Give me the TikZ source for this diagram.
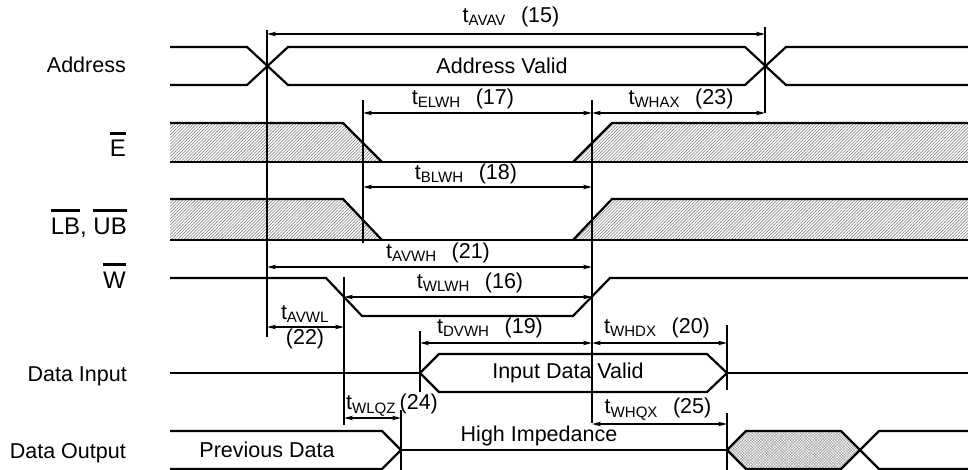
\documentclass[tikz,border=0pt]{standalone}
\usepackage{fontspec}
\setmainfont{Liberation Sans}
\usetikzlibrary{arrows.meta,patterns.meta}

\newcommand{\tlab}[2]{t\textsubscript{#1}\hspace{0.7em}(#2)}
\newcommand{\lowact}[1]{\leavevmode\setbox0\hbox{#1}\rlap{\raisebox{0.93em}{\rule{\wd0}{2.2pt}}}\box0}

\begin{document}
\begin{tikzpicture}[x=1pt,y=-1pt,>={Stealth[length=9pt,width=4.5pt]},
                    font=\fontsize{21.5}{26}\selectfont]
       \tikzstyle{sig}=[line width=2.2pt]
       \tikzstyle{vline}=[line width=2.2pt]
       \tikzstyle{dim}=[line width=1.8pt,<->]
       \tikzstyle{hatch}=[pattern={Lines[angle=45,distance=2.2pt,line width=0.6pt]},pattern color=black!50]
       \tikzstyle{xhatch}=[pattern={Hatch[angle=45,distance=2pt,line width=0.45pt]},pattern color=black!38]
       \tikzstyle{signame}=[anchor=base east,inner sep=0pt]
       \tikzstyle{big}=[font=\fontsize{24}{28}\selectfont]
       \tikzstyle{lab}=[inner sep=0pt]

       \useasboundingbox (0,0) rectangle (968,470);

       % signal names
       \node[signame]     (addr)  at (126,73)  {Address};
       \node[signame,big] (e)     at (126,157) {\lowact{E}};
       \node[signame,big] (lbub)  at (127,234) {\lowact{LB}, \lowact{UB}};
       \node[signame,big] (w)     at (126,288) {\lowact{W}};
       \node[signame]     (din)   at (127,381) {Data Input};
       \node[signame]     (dout)  at (126,458) {Data Output};

       % address
       \draw[sig] (170,47) -- (247,47) -- (288,85) -- (745,85) -- (786,47) -- (968,47);
       \draw[sig] (170,85) -- (247,85) -- (288,47) -- (745,47) -- (786,85) -- (968,85);
       \node[lab] (addr_valid) at (502,66) {Address Valid};

       % E
       \fill[hatch] (170,123) -- (343,123) -- (382,162) -- (170,162) -- cycle;
       \fill[hatch] (573,162) -- (612,123) -- (968,123) -- (968,162) -- cycle;
       \draw[sig] (170,123) -- (343,123) -- (382,162);
       \draw[sig] (573,162) -- (612,123) -- (968,123);
       \draw[sig] (170,162) -- (968,162);

       % LB, UB
       \fill[hatch] (170,199) -- (343,199) -- (382,240) -- (170,240) -- cycle;
       \fill[hatch] (573,240) -- (612,199) -- (968,199) -- (968,240) -- cycle;
       \draw[sig] (170,199) -- (343,199) -- (382,240);
       \draw[sig] (573,240) -- (612,199) -- (968,199);
       \draw[sig] (170,240) -- (968,240);

       % W
       \draw[sig] (170,278) -- (326,278) -- (362,316) -- (573,316) -- (610,278) -- (968,278);

       % data input
       \draw[sig] (170,373) -- (420,373);
       \draw[sig] (420,373) -- (439,354) -- (707,354) -- (727,373) -- (707,392) -- (439,392) -- cycle;
       \draw[sig] (727,373) -- (968,373);
       \node[lab] (din_valid) at (568,373) {Input Data Valid};

       % data output
       \draw[sig] (170,431) -- (382,431) -- (401,450) -- (382,469) -- (170,469);
       \draw[sig] (401,450) -- (727,450);
       \filldraw[sig,xhatch] (727,450) -- (746,431) -- (841,431) -- (860,450) -- (841,469) -- (746,469) -- cycle;
       \draw[sig] (860,450) -- (879,431) -- (968,431);
       \draw[sig] (860,450) -- (879,469) -- (968,469);
       \node[lab] (prev)  at (267,450) {Previous Data};
       \node[lab] (hiz)   at (539,436) {High Impedance};

       % reference lines
       \draw[vline] (267,30)  -- (267,337);
       \draw[vline] (765,27)  -- (765,113);
       \draw[vline] (363,100) -- (363,243);
       \draw[vline] (592,100) -- (592,423);
       \draw[vline] (344,277) -- (344,425);
       \draw[vline] (420,331) -- (420,392);
       \draw[vline] (727,325) -- (727,390);
       \draw[vline] (727,413) -- (727,470);
       \draw[vline] (401,410) -- (401,470);

       % timing
       \draw[dim] (267,34)  -- (765,34);
       \draw[dim] (363,113) -- (592,113);
       \draw[dim] (592,113) -- (765,113);
       \draw[dim] (363,187) -- (592,187);
       \draw[dim] (267,267) -- (592,267);
       \draw[dim] (344,297) -- (592,297);
       \draw[dim] (267,327) -- (344,327);
       \draw[dim] (420,343) -- (592,343);
       \draw[dim] (592,343) -- (727,343);
       \draw[dim] (344,418) -- (401,418);
       \draw[dim] (592,424) -- (727,424);

       \node[lab] (t_avav) at (511,17)  {\tlab{AVAV}{15}};
       \node[lab] (t_elwh) at (463,99)  {\tlab{ELWH}{17}};
       \node[lab] (t_whax) at (681,99)  {\tlab{WHAX}{23}};
       \node[lab] (t_blwh) at (466,174) {\tlab{BLWH}{18}};
       \node[lab] (t_avwh) at (438,253) {\tlab{AVWH}{21}};
       \node[lab] (t_wlwh) at (470,283) {\tlab{WLWH}{16}};
       \node[lab] (t_avwl) at (305,314) {t\textsubscript{AVWL}};
       \node[lab] (n_avwl) at (305,339) {(22)};
       \node[lab] (t_dvwh) at (490,328) {\tlab{DVWH}{19}};
       \node[lab] (t_whdx) at (657,328) {\tlab{WHDX}{20}};
       \node[lab] (t_wlqz) at (392,405) {t\textsubscript{WLQZ}\,(24)};
       \node[lab] (t_whqx) at (658,409) {\tlab{WHQX}{25}};
\end{tikzpicture}
\end{document}
